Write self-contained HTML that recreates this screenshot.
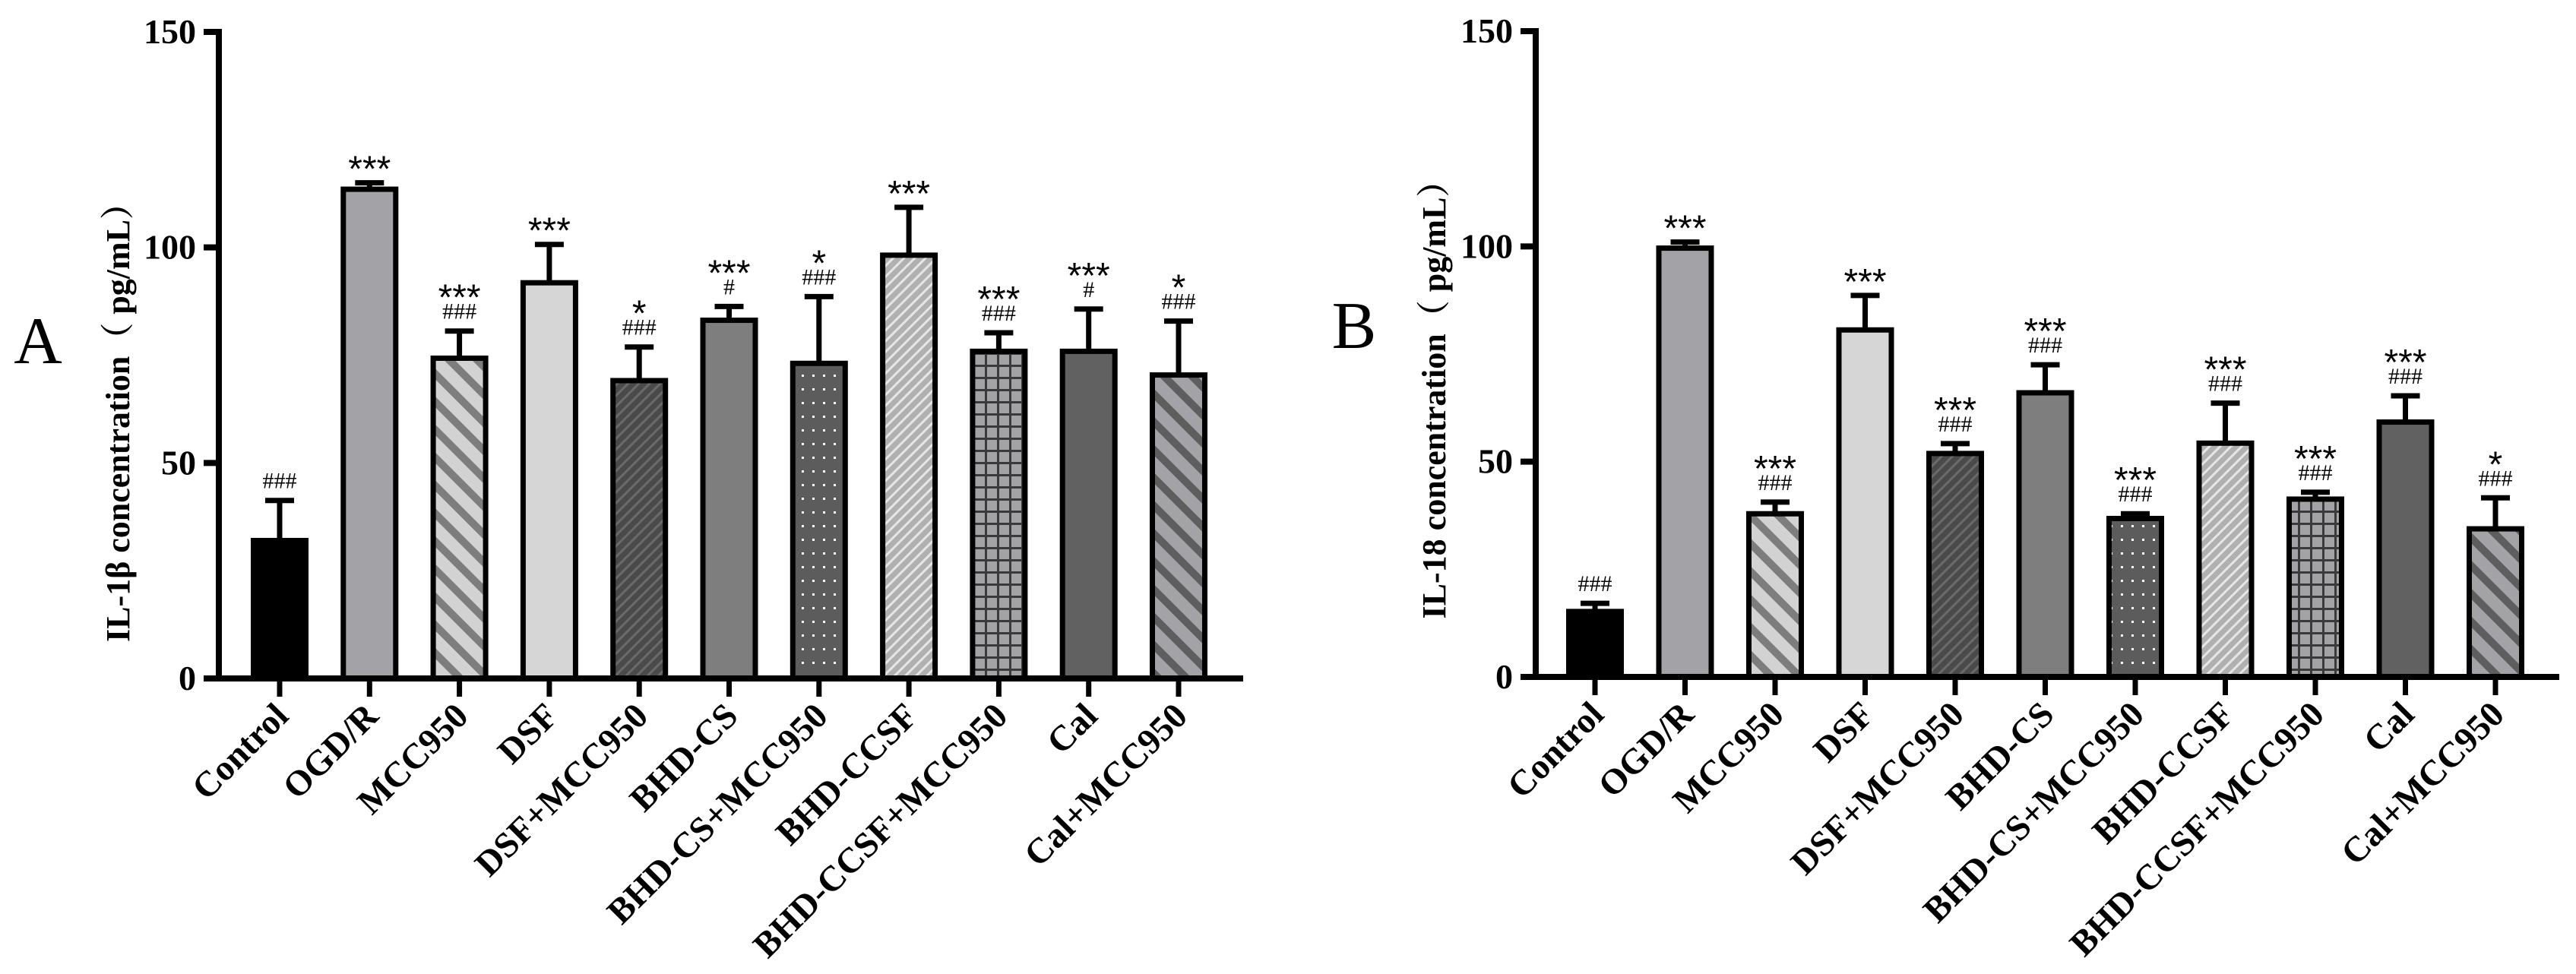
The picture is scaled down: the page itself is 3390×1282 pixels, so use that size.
<!DOCTYPE html>
<html><head><meta charset="utf-8"><style>
html,body{margin:0;padding:0;background:#fff;}
svg{display:block;}
</style></head><body>
<svg id="chart" width="3390" height="1282" viewBox="0 0 3390 1282" xmlns="http://www.w3.org/2000/svg">
<defs>
<pattern id="p-mcc" patternUnits="userSpaceOnUse" width="26" height="26" patternTransform="rotate(-45)"><rect width="26" height="26" fill="#d2d2d2"/><rect width="10" height="26" fill="#7d7d7d"/></pattern>
<pattern id="p-dsfm" patternUnits="userSpaceOnUse" width="10" height="10" patternTransform="rotate(45)"><rect width="10" height="10" fill="#4a4a4a"/><rect width="3" height="10" fill="#6a6a6a"/></pattern>
<pattern id="p-csm" patternUnits="userSpaceOnUse" width="14" height="18"><rect width="14" height="18" fill="#5c5c5c"/><rect x="5" y="7" width="3" height="3" fill="#ffffff"/></pattern>
<pattern id="p-ccsf" patternUnits="userSpaceOnUse" width="10" height="10" patternTransform="rotate(45)"><rect width="10" height="10" fill="#b0b0b0"/><rect width="3" height="10" fill="#e6e6e6"/></pattern>
<pattern id="p-grid" patternUnits="userSpaceOnUse" width="16" height="16"><rect width="16" height="16" fill="#a2a2a7"/><rect width="3" height="16" fill="#3a3a3a"/><rect width="16" height="3" fill="#3a3a3a"/></pattern>
<pattern id="p-calm" patternUnits="userSpaceOnUse" width="26" height="26" patternTransform="rotate(-45)"><rect width="26" height="26" fill="#a2a2a7"/><rect width="10" height="26" fill="#5e5e5e"/></pattern>
</defs>
<g id="gA"></g>
<g id="gB"></g>
</svg>
<script>
const categories = ["Control","OGD/R","MCC950","DSF","DSF+MCC950","BHD-CS","BHD-CS+MCC950","BHD-CCSF","BHD-CCSF+MCC950","Cal","Cal+MCC950"];
const valuesA = [32, 113.5, 74.3, 91.8, 69.1, 83.1, 73.1, 98.2, 75.9, 75.9, 70.4];
const errorsA = [41.3, 115, 80.6, 100.7, 76.9, 86.3, 88.6, 109.3, 80.2, 85.7, 82.9];
const starsA = ["", "***", "***", "***", "*", "***", "*", "***", "***", "***", "*"];
const hashA = ["###", "", "###", "", "###", "#", "###", "", "###", "#", "###"];
const valuesB = [15.2, 99.6, 37.9, 80.6, 51.9, 66, 36.8, 54.3, 41.3, 59.2, 34.4];
const errorsB = [17.1, 101, 40.6, 88.6, 54.2, 72.5, 37.9, 63.6, 42.9, 65.3, 41.6];
const starsB = ["", "***", "***", "***", "***", "***", "***", "***", "***", "***", "*"];
const hashB = ["###", "", "###", "", "###", "###", "###", "###", "###", "###", "###"];
const yTicks = [0, 50, 100, 150];
const fills = ["#000000","#a2a2a7","url(#p-mcc)","#d6d6d6","url(#p-dsfm)","#7e7e7e","url(#p-csm)","url(#p-ccsf)","url(#p-grid)","#616161","url(#p-calm)"];

const NS = "http://www.w3.org/2000/svg";
function mk(parent, tag, attrs, text){
  const e = document.createElementNS(NS, tag);
  for (const k in attrs) e.setAttribute(k, attrs[k]);
  if (text !== undefined) e.textContent = text;
  parent.appendChild(e);
  return e;
}
function drawPanel(g, o){
  const y = v => o.y0 - (v/150)*(o.y0 - o.y150);
  const x = i => o.x0 + i*o.step;
  const serif = '"Liberation Serif", serif';
  categories.forEach((c,i)=>{
    const cx = x(i);
    const top = y(o.vals[i]);
    const eb = mk(g,'line',{x1:cx,x2:cx,y1:top,y2:y(o.errs[i]),stroke:'#000','stroke-width':7});
    
    
    const cap = mk(g,'line',{x1:cx-19,x2:cx+19,y1:y(o.errs[i]),y2:y(o.errs[i]),stroke:'#000','stroke-width':7});
    
    
    const r = mk(g,'rect',{x:cx-34.5,y:top,width:69,height:o.y0-top,fill:fills[i],stroke:'#000','stroke-width':7});
    
    
    const ey = y(o.errs[i]);
    let base = ey - 16;
    if (o.hash[i]) {
      const h = mk(g,'text',{x:cx,y:base,'text-anchor':'middle','font-family':serif,'font-size':30,fill:'#000'},o.hash[i]);
      
      
      base -= 26;
    }
    if (o.stars[i]) {
      const s = mk(g,'text',{x:cx,y:base+14,'text-anchor':'middle','font-family':'"Liberation Sans", sans-serif','font-size':48,fill:'#000'},o.stars[i]);
      
      
    }
    const t = mk(g,'line',{x1:cx,x2:cx,y1:o.y0,y2:o.y0+24,stroke:'#000','stroke-width':7});
    
    
    const lx = cx+14, ly = o.y0+52;
    const lb = mk(g,'text',{x:lx,y:ly,'text-anchor':'end','font-family':serif,'font-weight':'bold','font-size':47,fill:'#000',transform:`rotate(-45 ${lx} ${ly})`},c);
    
    
  });
  const ya = mk(g,'line',{x1:o.ax,x2:o.ax,y1:o.y150-4,y2:o.y0+4,stroke:'#000','stroke-width':8});
  
  
  const xa = mk(g,'line',{x1:o.ax-18,x2:o.xend,y1:o.y0,y2:o.y0,stroke:'#000','stroke-width':8});
  
  
  yTicks.forEach(v=>{
    const ty = y(v);
    const tk = mk(g,'line',{x1:o.ax-20,x2:o.ax,y1:ty,y2:ty,stroke:'#000','stroke-width':8});
    
    
    const tl = mk(g,'text',{x:o.ax-30,y:ty+15,'text-anchor':'end','font-family':serif,'font-weight':'bold','font-size':46,fill:'#000'},String(v));
    
    
  });
  const yt = mk(g,'text',{x:o.titleX,y:o.titleY,'text-anchor':'middle','font-family':'"Liberation Serif", "Noto Serif CJK SC", serif','font-weight':'bold','font-size':44,fill:'#000',transform:`rotate(-90 ${o.titleX} ${o.titleY})`},o.title);
  
  
  const pl = mk(g,'text',{x:o.lx,y:o.ly,'text-anchor':'middle','font-family':serif,'font-size':88,fill:'#000'},o.letter);
  
  
}
drawPanel(document.getElementById('gA'),{ax:288,x0:368,step:118.3,y0:893,y150:42,xend:1636,vals:valuesA,errs:errorsA,stars:starsA,hash:hashA,title:"IL-1β concentration（ pg/mL）",titleX:170,titleY:545,letter:"A",lx:50,ly:478});
drawPanel(document.getElementById('gB'),{ax:2021,x0:2099,step:118.5,y0:891,y150:41,xend:3368,vals:valuesB,errs:errorsB,stars:starsB,hash:hashB,title:"IL-18 concentration（ pg/mL）",titleX:1902,titleY:515,letter:"B",lx:1782,ly:458});
</script>
</body></html>
